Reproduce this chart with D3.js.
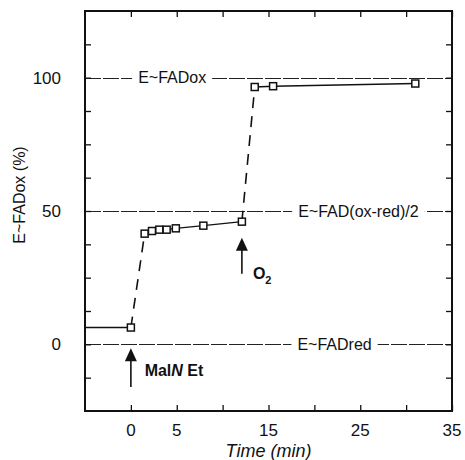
<!DOCTYPE html>
<html lang="en">
<head>
<meta charset="UTF-8">
<title>E~FADox vs time</title>
<script src="https://cdnjs.cloudflare.com/ajax/libs/d3/7.9.0/d3.min.js"></script>
<style>
  body { margin: 0; background: #fff; }
  svg text { font-family: 'Liberation Sans', Arial, sans-serif; fill: #111; }
</style>
</head>
<body>
<div id="root"></div>
<script>
// data
const times = [0, 1.5, 2.3, 3.1, 3.9, 4.9, 7.9, 12.1, 13.5, 15.5, 31]
const values = [6.3, 41.5, 42.5, 43, 43, 43.5, 44.5, 46, 96.5, 96.8, 97.8]
const startTime = -5          // flat trace before the first point
const jumpAfter = [0, 7]      // dashed segments start at these indices

const refLevels = [100, 50, 0]
const refLabels = ['E~FADox', 'E~FAD(ox-red)/2', 'E~FADred']
const refLabelAt = [4.5, 24.8, 22.2]

const xTicks = [0, 5, 10, 15, 20, 25, 30, 35]
const xTickLabels = [0, 5, 15, 25, 35]
const yTicks = [-12.5, 0, 12.5, 25, 37.5, 50, 62.5, 75, 87.5, 100, 112.5]
const yTickLabels = [0, 50, 100]

const W = 465, H = 460
const margin = { top: 11, right: 13, bottom: 49, left: 85 }
const w = W - margin.left - margin.right
const h = H - margin.top - margin.bottom

const svg = d3.select('#root').append('svg')
  .attr('width', W).attr('height', H)

const g = svg.append('g')
  .attr('transform', `translate(${margin.left},${margin.top})`)

const x = d3.scaleLinear().domain([-5, 35]).range([0, w])
const y = d3.scaleLinear().domain([-25, 125]).range([h, 0])

// reference levels, label sits in a white gap
const refG = g.append('g')
refG.selectAll('line').data(refLevels).enter().append('line')
  .attr('x1', 0).attr('x2', w)
  .attr('y1', d => Math.round(y(d)) + 0.5).attr('y2', d => Math.round(y(d)) + 0.5)
  .attr('stroke', '#222').attr('stroke-width', 1.2)
  .attr('stroke-dasharray', '16,2')
refLevels.forEach((lv, i) => {
  const lg = refG.append('g')
  const bg = lg.append('rect').attr('fill', '#fff')
  const t = lg.append('text')
    .attr('x', x(refLabelAt[i])).attr('y', y(lv))
    .attr('dy', '0.35em')
    .attr('text-anchor', 'middle')
    .style('font-size', '16px')
    .text(refLabels[i])
  const bb = t.node().getBBox()
  bg.attr('x', bb.x - 6).attr('y', bb.y)
    .attr('width', bb.width + 12).attr('height', bb.height)
})

// axes: ticks pointing inward on all four sides
const axL = d3.axisLeft(y).tickValues(yTicks).tickSize(-6).tickFormat('')
const axR = d3.axisRight(y).tickValues(yTicks).tickSize(-6).tickFormat('')
const axB = d3.axisBottom(x).tickValues(xTicks).tickSize(-6).tickFormat('')
const axT = d3.axisTop(x).tickValues(xTicks).tickSize(-6).tickFormat('')
g.append('g').call(axL)
g.append('g').attr('transform', `translate(${w},0)`).call(axR)
g.append('g').attr('transform', `translate(0,${h})`).call(axB)
g.append('g').call(axT)
g.selectAll('.domain').remove()
g.selectAll('.tick line').attr('stroke', '#111').attr('stroke-width', 1.3)

g.append('rect')
  .attr('width', w).attr('height', h)
  .attr('fill', 'none').attr('stroke', '#111').attr('stroke-width', 2)

// tick labels
g.selectAll('.ylab').data(yTickLabels).enter().append('text')
  .attr('x', -24).attr('y', d => y(d)).attr('dy', '0.35em')
  .attr('text-anchor', 'end')
  .style('font-size', '17px')
  .text(d => d)
g.selectAll('.xlab').data(xTickLabels).enter().append('text')
  .attr('x', d => x(d)).attr('y', h + 25)
  .attr('text-anchor', 'middle')
  .style('font-size', '17px')
  .text(d => d)

// axis titles
svg.append('text')
  .attr('transform', `translate(25,${margin.top + y(56)}) rotate(-90)`)
  .attr('text-anchor', 'middle')
  .style('font-size', '16px')
  .text('E~FADox (%)')
svg.append('text')
  .attr('x', margin.left + x(15)).attr('y', H - 3)
  .attr('text-anchor', 'middle')
  .style('font-size', '18px').style('font-style', 'italic')
  .text('Time (min)')

// trace
g.append('line')
  .attr('x1', x(startTime)).attr('x2', x(times[0]))
  .attr('y1', y(values[0])).attr('y2', y(values[0]))
  .attr('stroke', '#111').attr('stroke-width', 1.4)

for (let i = 0; i < times.length - 1; i++) {
  const dashed = jumpAfter.includes(i)
  g.append('line')
    .attr('x1', x(times[i])).attr('y1', y(values[i]))
    .attr('x2', x(times[i + 1])).attr('y2', y(values[i + 1]))
    .attr('stroke', '#111')
    .attr('stroke-width', dashed ? 1.6 : 1.4)
    .attr('stroke-dasharray', dashed ? '11,8' : null)
}

const sq = 7
g.selectAll('.pt').data(times).enter().append('rect')
  .attr('x', (d) => x(d) - sq / 2)
  .attr('y', (d, i) => y(values[i]) - sq / 2)
  .attr('width', sq).attr('height', sq)
  .attr('fill', '#fff').attr('stroke', '#111').attr('stroke-width', 1.5)

// arrows
const arrow = (t, y0, y1) => {
  const ax = x(t)
  g.append('line')
    .attr('x1', ax).attr('x2', ax)
    .attr('y1', y0).attr('y2', y1 + 10)
    .attr('stroke', '#111').attr('stroke-width', 1.6)
  g.append('path')
    .attr('d', `M${ax},${y1} L${ax - 6},${y1 + 13} L${ax + 6},${y1 + 13} Z`)
    .attr('fill', '#111')
}
arrow(0, y(-16), y(-1.5))
arrow(12.1, y(26.5), y(40))

const mal = g.append('text')
  .attr('x', x(1.5)).attr('y', y(-12))
  .style('font-size', '16px').style('font-weight', 'bold')
mal.append('tspan').text('Mal')
mal.append('tspan').style('font-style', 'italic').text('N')
mal.append('tspan').text(' Et')

const o2 = g.append('text')
  .attr('x', x(13.3)).attr('y', y(24.5))
  .style('font-size', '16px').style('font-weight', 'bold')
o2.append('tspan').text('O')
o2.append('tspan').attr('dy', 5).style('font-size', '11px').text('2')
</script>
</body>
</html>
